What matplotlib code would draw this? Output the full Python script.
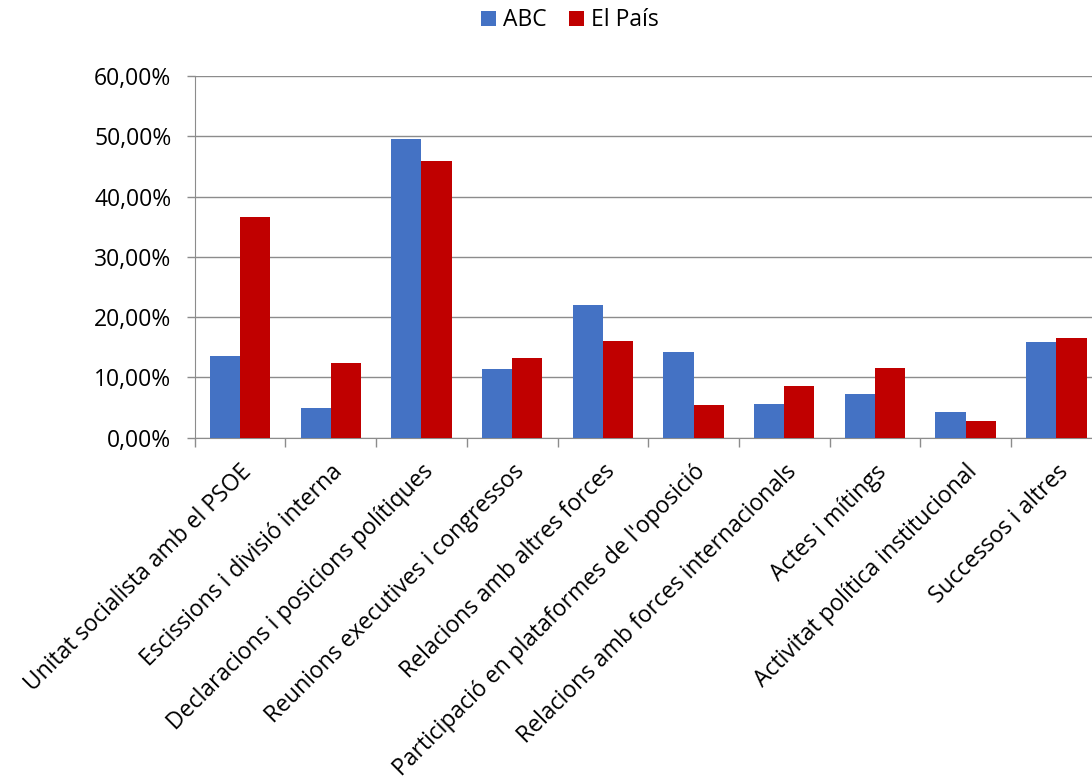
import matplotlib
matplotlib.use("Agg")
import matplotlib.pyplot as plt
import numpy as np
from matplotlib.ticker import FuncFormatter, FixedLocator

plt.rcParams['font.family'] = ['Open Sans', 'DejaVu Sans']

categories = [
    "Unitat socialista amb el PSOE",
    "Escissions i divisió interna",
    "Declaracions i posicions polítiques",
    "Reunions executives i congressos",
    "Relacions amb altres forces",
    "Participació en plataformes de l'oposició",
    "Relacions amb forces internacionals",
    "Actes i mítings",
    "Activitat política institucional",
    "Successos i altres",
]
abc = [13.5, 4.87, 49.5, 11.4, 22.07, 14.16, 5.59, 7.19, 4.2, 15.82]
el_pais = [36.56, 12.39, 45.85, 13.27, 16.04, 5.37, 8.63, 11.62, 2.77, 16.48]

grid_col = '#8c8c8c'
fs = 16.5

fig = plt.figure(figsize=(10.92, 7.78), dpi=100)
ax = fig.add_axes([0.1783, 0.4374, 0.8306, 0.4649])

x = np.arange(len(categories))
w = 1 / 3
ax.bar(x - w / 2, abc, width=w, color='#4472C4', label='ABC', zorder=3)
ax.bar(x + w / 2, el_pais, width=w, color='#C00000', label='El País', zorder=3)

ax.set_xlim(-0.5, len(categories) - 0.5)
ax.set_ylim(0, 60)
ax.set_yticks(np.arange(0, 61, 10))
ax.yaxis.set_major_formatter(FuncFormatter(lambda v, p: f"{v:.2f}%".replace('.', ',')))
ax.grid(axis='y', color=grid_col, linewidth=1.0, zorder=0)

ax.set_xticks(x)
ax.set_xticklabels(categories, rotation=45, ha='right', va='top', rotation_mode='anchor')
ax.xaxis.set_minor_locator(FixedLocator(np.arange(-0.5, len(categories), 1)))
ax.tick_params(axis='x', which='major', length=0, pad=16, labelsize=fs)
ax.tick_params(axis='x', which='minor', length=6.5, color=grid_col, width=1.0)
ax.tick_params(axis='y', length=5.8, color=grid_col, width=1.0, labelsize=fs, pad=11)

for s in ['top', 'right']:
    ax.spines[s].set_visible(False)
ax.spines['left'].set_color(grid_col)
ax.spines['bottom'].set_color(grid_col)

fig.legend(loc='center', bbox_to_anchor=(0.522, 0.974), ncol=2, frameon=False,
           fontsize=fs, handlelength=0.65, handleheight=0.65, handletextpad=0.3,
           columnspacing=1.0)

fig.savefig('out.png', dpi=100)
